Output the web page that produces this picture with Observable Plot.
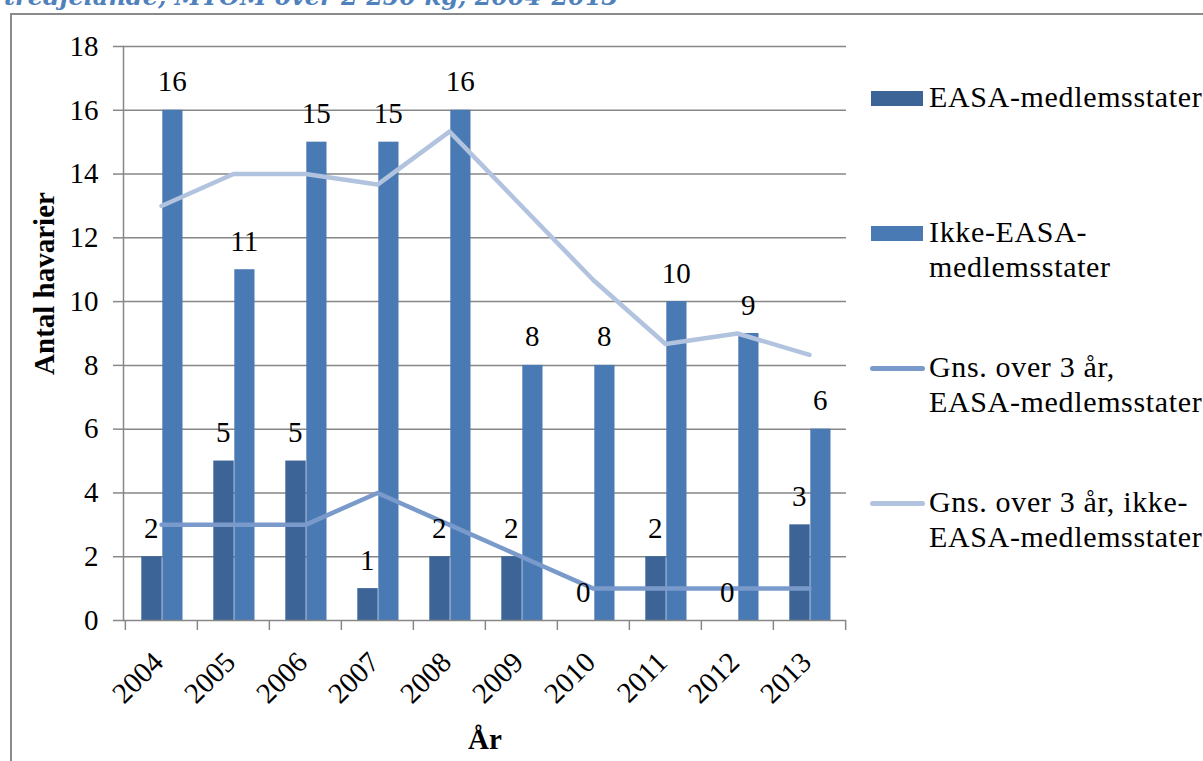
<!DOCTYPE html>
<html>
<head>
<meta charset="utf-8">
<script src="https://cdn.jsdelivr.net/npm/d3@7"></script>
<script src="https://cdn.jsdelivr.net/npm/@observablehq/plot@0.6"></script>
<style>
  html, body { margin: 0; padding: 0; background: #fff; }
  #wrap { position: relative; width: 1203px; height: 761px; overflow: hidden; background: #fff; }
  #title { position: absolute; left: 0; top: -15px; white-space: nowrap;
    font-family: "DejaVu Serif", serif; font-style: italic; font-weight: bold;
    font-size: 24px; line-height: 24px; color: #4F81BD; }
  #frame { position: absolute; left: 10px; top: 13px; width: 1400px; height: 1000px;
    border: 2px solid #8a8a8a; box-sizing: border-box; }
  #chart { position: absolute; left: 0; top: 0; }
  .lg-text { position: absolute; left: 929px; white-space: nowrap;
    font-family: "Liberation Serif", serif; font-size: 30px; letter-spacing: 0.65px;
    line-height: 34.5px; color: #000; }
  .lg-rect { position: absolute; left: 871px; width: 52px; height: 15px; }
  .lg-line { position: absolute; left: 870px; width: 55px; height: 5px; border-radius: 3px; }
</style>
</head>
<body>
<div id="wrap">
  <div id="frame"></div>
  <div id="title">tredjelande, MTOM over 2 250 kg, 2004-2013</div>
  <div id="chart"></div>
  <div id="legend"></div>
</div>
<script>
const years = ["2004","2005","2006","2007","2008","2009","2010","2011","2012","2013"];
const easa = [2, 5, 5, 1, 2, 2, 0, 2, 0, 3];
const ikkeEasa = [16, 11, 15, 15, 16, 8, 8, 10, 9, 6];
const avgEasa = [3, 3, 3, 4, 3, 2, 1, 1, 1, 1];
const avgIkke = [13, 14, 14, 13.67, 15.33, 13, 10.67, 8.67, 9, 8.33];
const yTicks = [0, 2, 4, 6, 8, 10, 12, 14, 16, 18];

const seriesNames = ["EASA-medlemsstater", "Ikke-EASA-medlemsstater", "Gns. over 3 år, EASA-medlemsstater", "Gns. over 3 år, ikke-EASA-medlemsstater"];
const legendLabels = [["EASA-medlemsstater"], ["Ikke-EASA-", "medlemsstater"], ["Gns. over 3 år,", "EASA-medlemsstater"], ["Gns. over 3 år, ikke-", "EASA-medlemsstater"]];
const colors = ["#3D6496", "#4A7AB4", "#7A9ACB", "#B1C3DE"];

const barsE = years.map((y, i) => ({year: y, value: easa[i]}));
const barsI = years.map((y, i) => ({year: y, value: ikkeEasa[i]}));
const lineE = years.map((y, i) => ({year: y, value: avgEasa[i]}));
const lineI = years.map((y, i) => ({year: y, value: avgIkke[i]}));

const W = 880, H = 761, mL = 123, mR = 34, mT = 46, mB = 141;
const bw = (W - mL - mR) / years.length;
const serif = "Liberation Serif";
const grey = "#878787";

const chart = Plot.plot({
  width: W, height: H,
  marginLeft: mL, marginRight: mR, marginTop: mT, marginBottom: mB,
  style: {fontFamily: serif, background: "transparent", overflow: "visible"},
  x: {type: "band", domain: years, paddingInner: 0, paddingOuter: 0, axis: null},
  y: {domain: [0, 18], axis: null},
  marks: [
    Plot.gridY(yTicks.filter(d => d > 0), {stroke: grey, strokeOpacity: 1, strokeWidth: 1.5}),
    Plot.barY(barsE, {x: "year", y: "value", fill: colors[0], insetLeft: 16.3, insetRight: 35.3}),
    Plot.barY(barsI, {x: "year", y: "value", fill: colors[1], insetLeft: 37.3, insetRight: 14.5}),
    Plot.ruleY([0], {stroke: grey, strokeWidth: 1.5}),
    Plot.frame({anchor: "left", stroke: grey, strokeWidth: 1.5}),
    Plot.axisY(yTicks, {tickSize: 10, tickPadding: 15, fontSize: 29, fontFamily: serif, fill: "#000", stroke: grey, strokeWidth: 1.5, label: null, tickFormat: d => String(d)}),
    Plot.axisX(years, {tickSize: 10, tickFormat: () => "", dx: -bw / 2, stroke: grey, strokeWidth: 1.5, label: null}),
    Plot.axisX([years[years.length - 1]], {tickSize: 10, tickFormat: () => "", dx: bw / 2, stroke: grey, strokeWidth: 1.5, label: null}),
    Plot.axisX(years, {tickSize: 0, tickPadding: 37, tickRotate: -45, fontSize: 29, fontFamily: serif, fill: "#000", label: null, dx: -3}),
    Plot.line(lineE, {x: "year", y: "value", stroke: colors[2], strokeWidth: 4.5, strokeLinecap: "round", strokeLinejoin: "round"}),
    Plot.line(lineI, {x: "year", y: "value", stroke: colors[3], strokeWidth: 4.5, strokeLinecap: "round", strokeLinejoin: "round"}),
    Plot.text(barsE, {x: "year", y: "value", text: d => String(d.value), dx: -10.3, dy: -19, lineAnchor: "bottom", fontSize: 29, fontFamily: serif, fill: "#000"}),
    Plot.text(barsI, {x: "year", y: "value", text: d => String(d.value), dx: 10.8, dy: -19, lineAnchor: "bottom", fontSize: 29, fontFamily: serif, fill: "#000"}),
    Plot.text(["Antal havarier"], {frameAnchor: "left", textAnchor: "middle", dx: -70, dy: -50, rotate: -90, fontSize: 29, fontFamily: serif, fontWeight: "bold", fill: "#000", lineAnchor: "bottom"}),
    Plot.text(["År"], {frameAnchor: "bottom", textAnchor: "middle", dy: 128, fontSize: 29, fontFamily: serif, fontWeight: "bold", fill: "#000", lineAnchor: "bottom"})
  ]
});
document.getElementById("chart").appendChild(chart);

// title: right end aligned where the reference's visible title ends
const titleEl = document.getElementById("title");
titleEl.style.left = (618 - titleEl.offsetWidth) + "px";

// legend
const legend = document.getElementById("legend");
const textTops = [80, 215, 350, 485];
const markerTops = [91, 226, 366, 501];
seriesNames.forEach((name, i) => {
  const m = document.createElement("div");
  m.className = i < 2 ? "lg-rect" : "lg-line";
  m.style.top = markerTops[i] + "px";
  m.style.background = colors[i];
  m.title = name;
  legend.appendChild(m);
  const t = document.createElement("div");
  t.className = "lg-text";
  t.style.top = textTops[i] + "px";
  t.innerHTML = legendLabels[i].join("<br>");
  legend.appendChild(t);
});
</script>
</body>
</html>
